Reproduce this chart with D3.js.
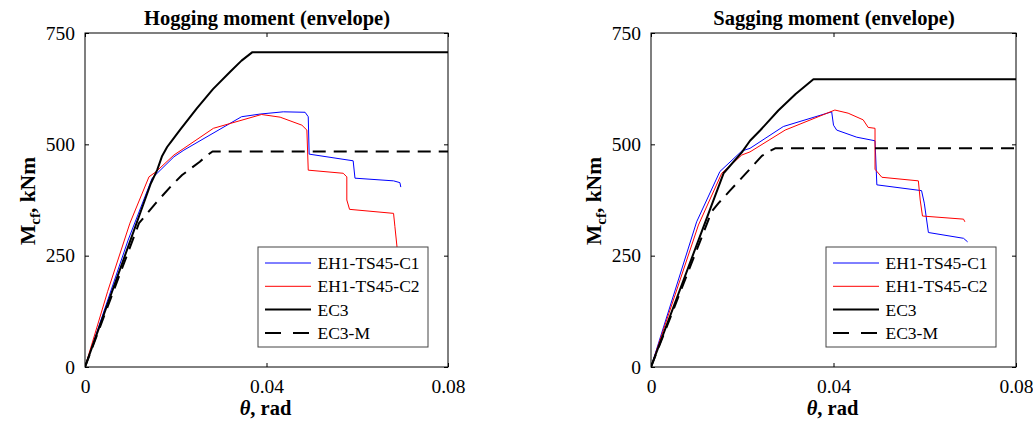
<!DOCTYPE html>
<html>
<head>
<meta charset="utf-8">
<script src="https://cdn.jsdelivr.net/npm/d3@7"></script>
<style>
  body { margin: 0; background: #fff; }
  svg { display: block; }
  text { font-family: "Liberation Serif", "Times New Roman", serif; fill: #000; }
</style>
</head>
<body>
<svg id="chart" width="1033" height="425"></svg>
<script>
// values, [theta (rad), moment (kNm)]
var hogC1 = [[0,0],[0.0095,285],[0.0148,424],[0.0196,472],[0.0218,487],[0.0345,562],[0.0386,568],[0.0437,573],[0.0485,572],[0.0492,562],[0.0494,478],[0.0591,463],[0.0595,424],[0.0680,418],[0.0694,414],[0.0696,404]];
var hogC2 = [[0,0],[0.0050,170],[0.0099,323],[0.0141,427],[0.0156,438],[0.0196,476],[0.0218,491],[0.0283,536],[0.0389,567],[0.0430,561],[0.0478,543],[0.0489,532],[0.0492,442],[0.0569,435],[0.0577,427],[0.0577,375],[0.0583,354],[0.0680,345],[0.0683,315],[0.0688,266]];
var hogEC3 = [[0,0],[0.0145,412],[0.0159,442],[0.0170,474],[0.0181,494],[0.0192,509],[0.0209,532],[0.0246,580],[0.0282,624],[0.0320,663],[0.0345,688],[0.0369,707],[0.08,707]];
var hogEC3M = [[0,0],[0.0108,293],[0.0119,323],[0.0156,368],[0.0192,409],[0.0214,431],[0.0253,461],[0.0270,476],[0.0281,484],[0.08,484]];

var sagC1 = [[0,0],[0.0100,326],[0.0151,439],[0.0199,485],[0.0217,491],[0.0290,540],[0.0396,573],[0.0400,543],[0.0407,532],[0.0451,516],[0.0491,508],[0.0495,409],[0.0593,396],[0.0599,368],[0.0608,302],[0.0685,289],[0.0694,281]];
var sagC2 = [[0,0],[0.0104,319],[0.0155,435],[0.0199,476],[0.0217,483],[0.0294,532],[0.0403,577],[0.0432,570],[0.0465,555],[0.0476,538],[0.0491,536],[0.0491,444],[0.0506,426],[0.0586,418],[0.0590,375],[0.0595,339],[0.0685,332],[0.0688,326]];
var sagEC3 = [[0,0],[0.0159,435],[0.0199,482],[0.0217,508],[0.0239,531],[0.0279,576],[0.0317,613],[0.0356,646],[0.08,646]];
var sagEC3M = [[0,0],[0.0133,349],[0.0148,368],[0.0173,396],[0.0210,437],[0.0243,474],[0.0262,486],[0.0272,491],[0.08,491]];

var xTicks = [0, 0.04, 0.08];
var xTickLabels = ['0', '0.04', '0.08'];
var yTicks = [0, 250, 500, 750];
var seriesNames = ['EH1-TS45-C1', 'EH1-TS45-C2', 'EC3', 'EC3-M'];

var svg = d3.select('#chart');
var top0 = 33, bottom0 = 367;

var styles = [
  {color: '#0000ff', width: 1, dash: null},
  {color: '#ff0000', width: 1, dash: null},
  {color: '#000', width: 2, dash: null},
  {color: '#000', width: 2, dash: '13,8'}
];

function drawPanel(left, right, title, series, id) {
  var x = d3.scaleLinear().domain([0, 0.08]).range([left, right]);
  var y = d3.scaleLinear().domain([0, 750]).range([bottom0, top0]);
  var g = svg.append('g');

  g.append('clipPath').attr('id', id)
    .append('rect')
      .attr('x', left).attr('y', top0)
      .attr('width', right - left).attr('height', bottom0 - top0);

  var line = d3.line()
    .x(d => x(d[0]))
    .y(d => y(d[1]));

  // experiment curves first, code curves on top
  var order = [0, 1, 3, 2];
  order.forEach(i => {
    g.append('path')
      .datum(series[i])
      .attr('clip-path', 'url(#' + id + ')')
      .attr('d', line)
      .attr('fill', 'none')
      .attr('stroke', styles[i].color)
      .attr('stroke-width', styles[i].width)
      .attr('stroke-dasharray', styles[i].dash)
      .attr('stroke-linejoin', 'round');
  });

  // axes with inward ticks
  var bottomAxis = d3.axisBottom(x).tickValues(xTicks)
    .tickFormat((d, i) => xTickLabels[i])
    .tickSizeInner(-4).tickSizeOuter(0).tickPadding(12);
  var topAxis = d3.axisTop(x).tickValues(xTicks).tickFormat('')
    .tickSizeInner(-4).tickSizeOuter(0);
  var leftAxis = d3.axisLeft(y).tickValues(yTicks)
    .tickSizeInner(-4).tickSizeOuter(0).tickPadding(10);
  var rightAxis = d3.axisRight(y).tickValues(yTicks).tickFormat('')
    .tickSizeInner(-4).tickSizeOuter(0);

  var axes = [
    g.append('g').attr('transform', 'translate(0,' + bottom0 + ')').call(bottomAxis),
    g.append('g').attr('transform', 'translate(0,' + top0 + ')').call(topAxis),
    g.append('g').attr('transform', 'translate(' + left + ',0)').call(leftAxis),
    g.append('g').attr('transform', 'translate(' + right + ',0)').call(rightAxis)
  ];
  axes.forEach(a => {
    a.select('.domain').remove();
    a.attr('font-family', null).attr('font-size', null);
    a.selectAll('line').attr('stroke', '#000');
    a.selectAll('text').style('font-size', '19.5px');
  });

  g.append('rect')
    .attr('x', left).attr('y', top0)
    .attr('width', right - left).attr('height', bottom0 - top0)
    .attr('fill', 'none').attr('stroke', '#000').attr('stroke-width', 1);

  var cx = (left + right) / 2;

  g.append('text')
    .attr('x', cx + 0.5).attr('y', 25)
    .attr('text-anchor', 'middle')
    .style('font-size', '20.5px').style('font-weight', 'bold')
    .text(title);

  var xl = g.append('text')
    .attr('x', cx - 1).attr('y', 415)
    .attr('text-anchor', 'middle')
    .style('font-size', '20.5px').style('font-weight', 'bold');
  xl.append('tspan').style('font-style', 'italic').text('θ');
  xl.append('tspan').text(', rad');

  var yl = g.append('text')
    .attr('transform', 'translate(' + (left - 50) + ',' + ((top0 + bottom0) / 2 + 1) + ') rotate(-90)')
    .attr('text-anchor', 'middle')
    .style('font-size', '21.5px').style('font-weight', 'bold');
  yl.append('tspan').text('M');
  yl.append('tspan').attr('dy', 5).style('font-size', '15px').text('cf');
  yl.append('tspan').attr('dy', -5).text(', kNm');

  // legend
  var lw = 170, lh = 100;
  var lx = right - 20 - lw, ly = bottom0 - 20 - lh;
  var leg = g.append('g').attr('transform', 'translate(' + lx + ',' + ly + ')');
  leg.append('rect')
    .attr('width', lw).attr('height', lh)
    .attr('fill', '#fff').attr('stroke', '#444').attr('stroke-width', 1);
  seriesNames.forEach((name, i) => {
    var ry = 16 + i * 23.3;
    leg.append('line')
      .attr('x1', 7).attr('x2', 53).attr('y1', ry).attr('y2', ry)
      .attr('stroke', styles[i].color)
      .attr('stroke-width', styles[i].width)
      .attr('stroke-dasharray', styles[i].dash ? '16,12' : null);
    leg.append('text')
      .attr('x', 59.5).attr('y', ry).attr('dy', '0.35em')
      .style('font-size', '17.5px')
      .text(name);
  });
}

drawPanel(85, 448, 'Hogging moment (envelope)', [hogC1, hogC2, hogEC3, hogEC3M], 'clipHog');
drawPanel(651, 1016, 'Sagging moment (envelope)', [sagC1, sagC2, sagEC3, sagEC3M], 'clipSag');
</script>
</body>
</html>
